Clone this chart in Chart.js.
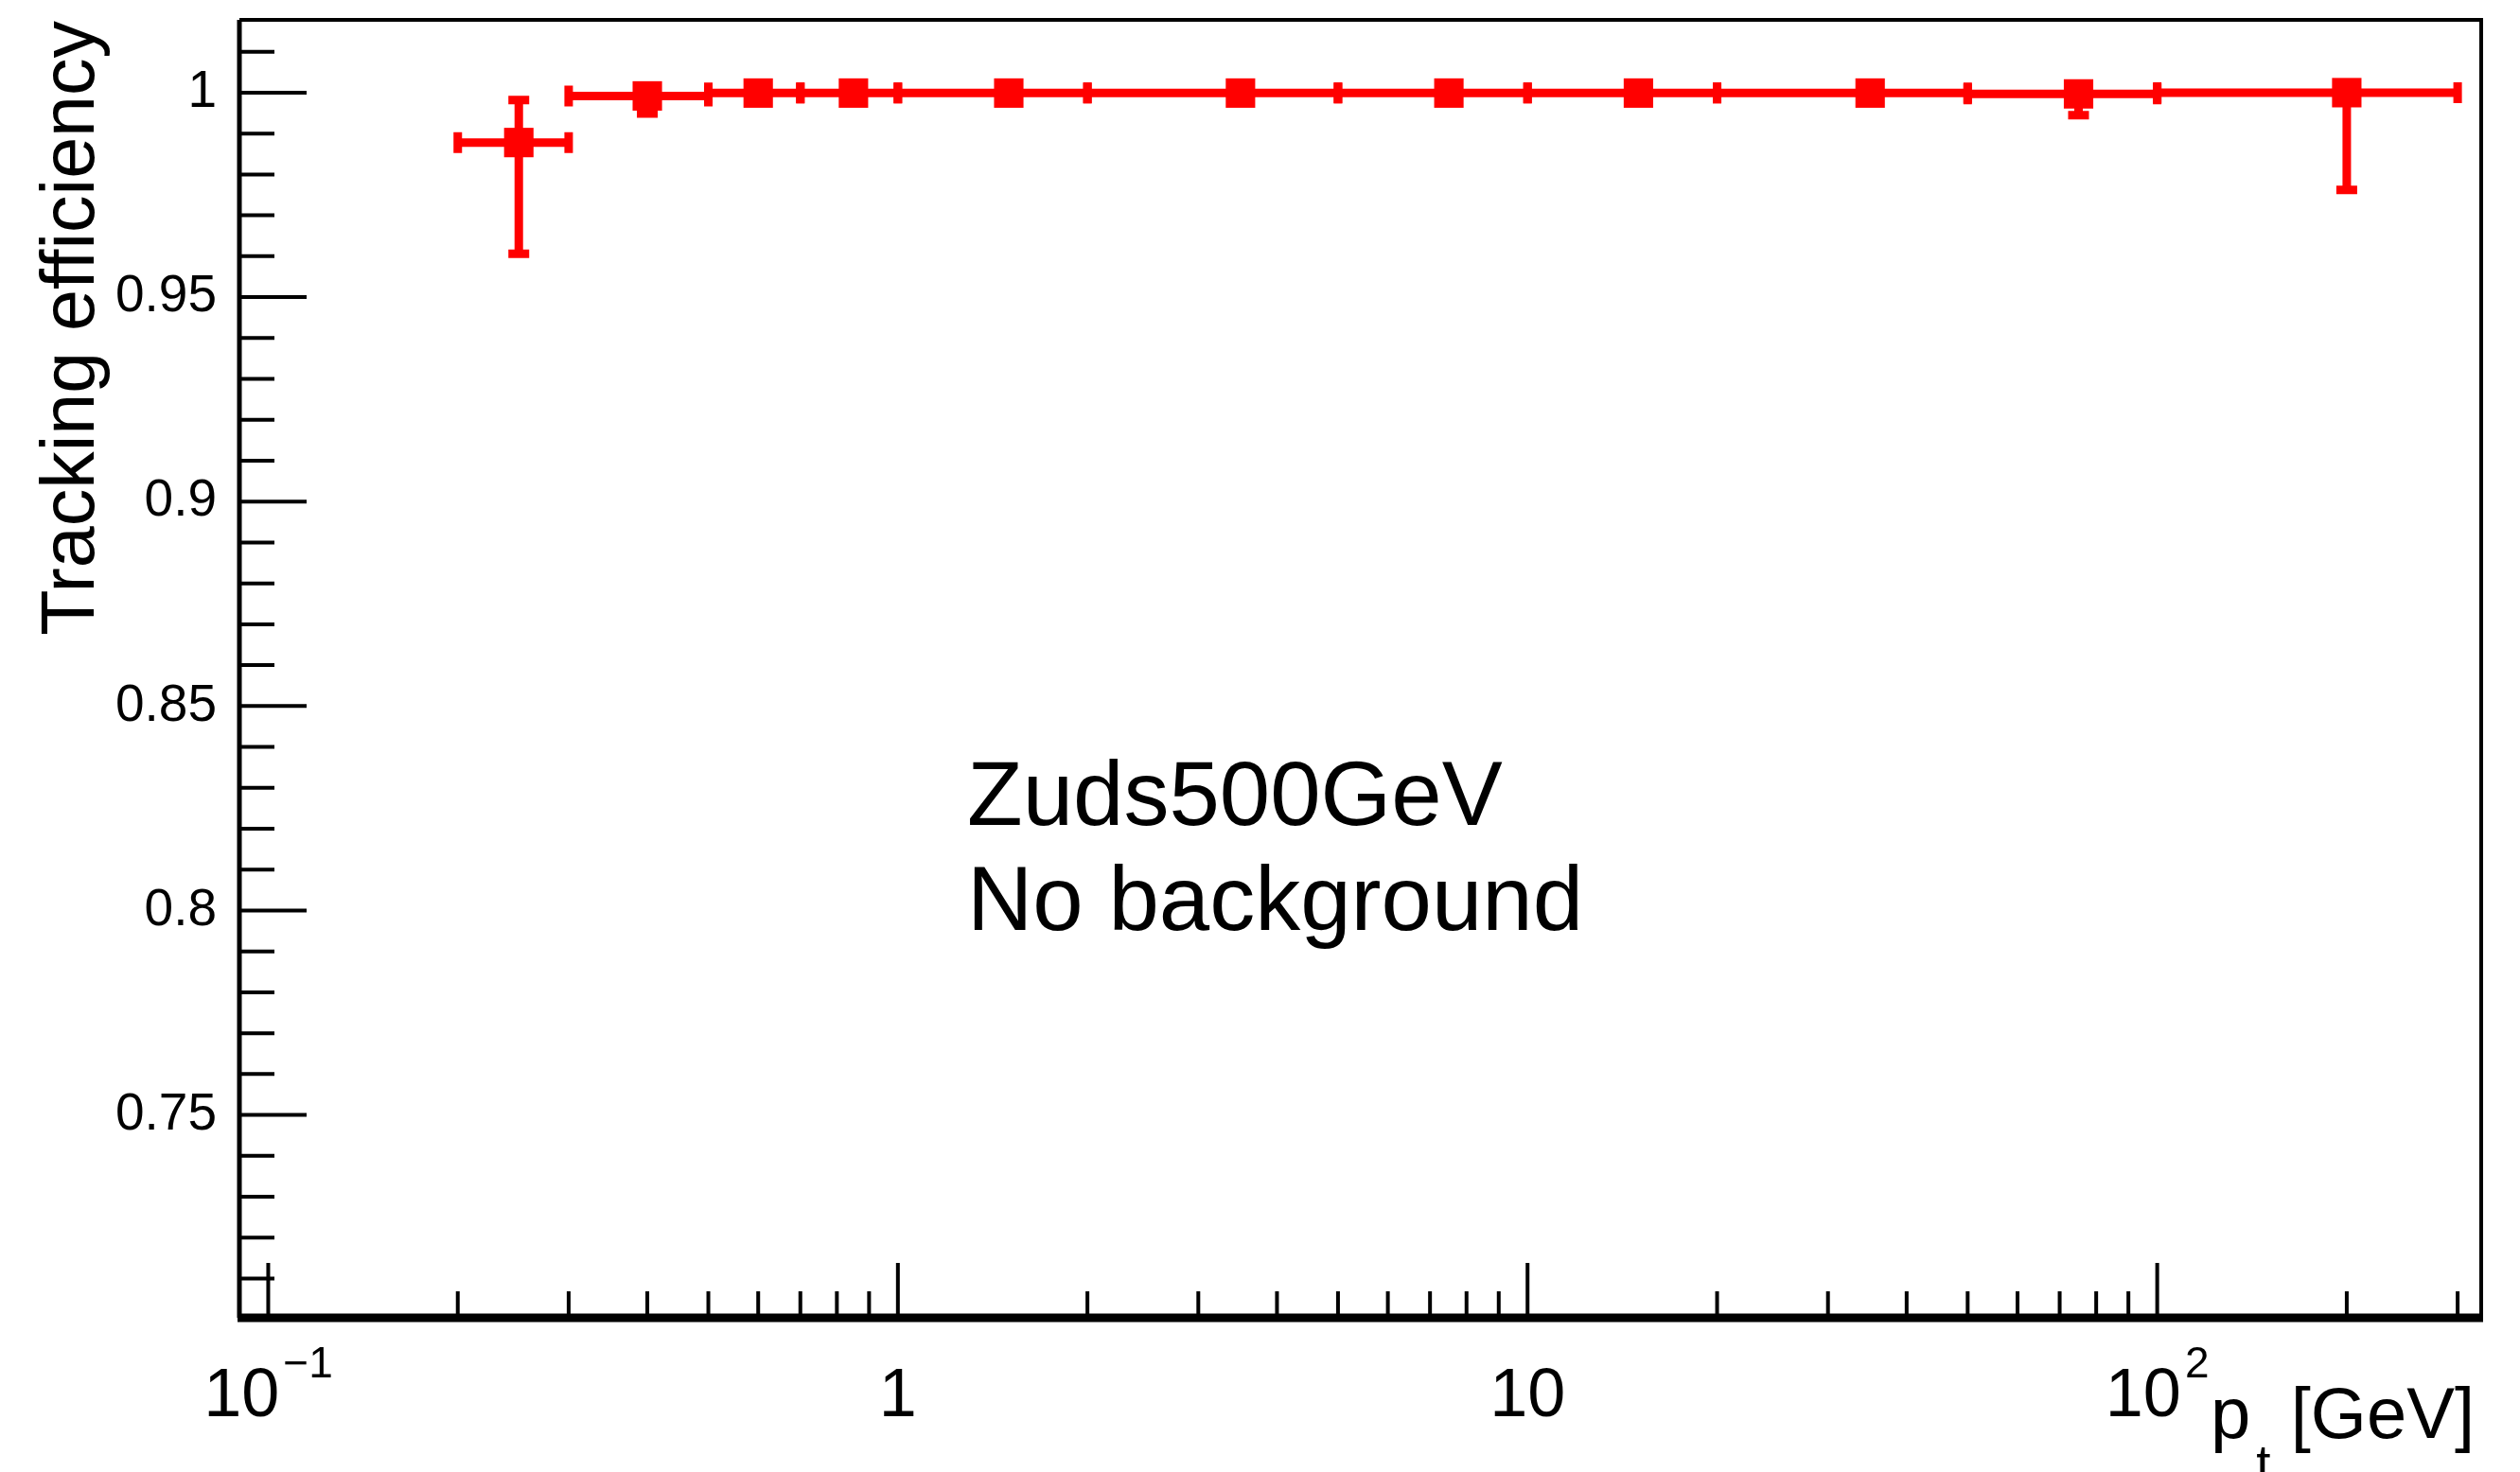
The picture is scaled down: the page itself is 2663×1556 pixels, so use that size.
<!DOCTYPE html>
<html lang="en">
  <head>
    <meta charset="UTF-8" />
    <title>Tracking efficiency</title>
    <script src="https://cdn.jsdelivr.net/npm/chart.js"></script>
    <style>
      html,
      body {
        margin: 0;
        padding: 0;
        background: #fff;
      }
      canvas {
        display: block;
      }
    </style>
  </head>

  <body>
    <canvas id="effChart" width="2663" height="1556"></canvas>

    <script>
      // pt bins [GeV]
      var binCenter = [0.25, 0.4, 0.6, 0.85, 1.5, 3.5, 7.5, 15, 35, 75, 200];
      var binLow = [0.2, 0.3, 0.5, 0.7, 1, 2, 5, 10, 20, 50, 100];
      var binHigh = [0.3, 0.5, 0.7, 1, 2, 5, 10, 20, 50, 100, 300];

      // efficiency and asymmetric errors
      var efficiency = [0.9878, 0.9992, 0.9999, 0.9999, 0.9999, 0.9999, 0.9999, 0.9999, 0.9999, 0.9997, 1.0];
      var errLow = [0.0272, 0.0043, 0.0012, 0.001, 0.0008, 0.0007, 0.0008, 0.001, 0.0012, 0.0052, 0.0238];
      var errHigh = [0.0104, 0.0006, 0.0001, 0.0001, 0.0001, 0.0001, 0.0001, 0.0001, 0.0001, 0.0003, 0];

      // axis ticks
      var yTicks = [0.75, 0.8, 0.85, 0.9, 0.95, 1];
      var xTicks = [0.1, 1, 10, 100];
      var xTickBase = ["10", "1", "10", "10"];
      var xTickExp = ["\u22121", "", "", "2"];

      var FONT = "'Liberation Sans', Arial, Helvetica, sans-serif";
      var RED = "#ff0000";

      var errorBars = {
        id: "errorBars",
        beforeDatasetsDraw: function (chart) {
          var ctx = chart.ctx;
          var xs = chart.scales.x;
          var ys = chart.scales.y;
          var cap = 11;
          ctx.save();
          ctx.strokeStyle = RED;
          ctx.lineWidth = 9;
          for (var i = 0; i < binCenter.length; i++) {
            var x = xs.getPixelForValue(binCenter[i]);
            var y = ys.getPixelForValue(efficiency[i]);
            var x1 = xs.getPixelForValue(binLow[i]);
            var x2 = xs.getPixelForValue(binHigh[i]);
            var y1 = ys.getPixelForValue(efficiency[i] - errLow[i]);
            var y2 = ys.getPixelForValue(efficiency[i] + errHigh[i]);
            ctx.beginPath();
            ctx.moveTo(x1, y);
            ctx.lineTo(x2, y);
            ctx.moveTo(x, y1);
            ctx.lineTo(x, y2);
            ctx.moveTo(x1, y - cap);
            ctx.lineTo(x1, y + cap);
            ctx.moveTo(x2, y - cap);
            ctx.lineTo(x2, y + cap);
            ctx.moveTo(x - cap, y1);
            ctx.lineTo(x + cap, y1);
            ctx.moveTo(x - cap, y2);
            ctx.lineTo(x + cap, y2);
            ctx.stroke();
          }
          ctx.restore();
        },
      };

      var frame = {
        id: "frame",
        afterDraw: function (chart) {
          var ctx = chart.ctx;
          var a = chart.chartArea;
          var xs = chart.scales.x;
          var ys = chart.scales.y;
          ctx.save();
          ctx.strokeStyle = "#000";
          ctx.fillStyle = "#000";

          // frame
          ctx.lineWidth = 4;
          ctx.beginPath();
          ctx.moveTo(a.left, a.top);
          ctx.lineTo(a.right, a.top);
          ctx.lineTo(a.right, a.bottom);
          ctx.stroke();
          ctx.lineWidth = 5;
          ctx.beginPath();
          ctx.moveTo(a.left, a.bottom);
          ctx.lineTo(a.left, a.top);
          ctx.stroke();
          ctx.lineWidth = 9;
          ctx.beginPath();
          ctx.moveTo(a.left - 2, a.bottom);
          ctx.lineTo(a.right + 2, a.bottom);
          ctx.stroke();

          // y ticks (inside)
          ctx.lineWidth = 4;
          ctx.beginPath();
          for (var k = 71; k <= 101; k++) {
            var v = k / 100;
            var py = ys.getPixelForValue(v);
            if (py < a.top || py > a.bottom) continue;
            var len = k % 5 === 0 ? 71 : 37;
            ctx.moveTo(a.left, py);
            ctx.lineTo(a.left + len, py);
          }
          ctx.stroke();

          // x ticks (inside)
          ctx.beginPath();
          for (var d = -1; d <= 2; d++) {
            for (var m = 1; m <= 9; m++) {
              var xv = m * Math.pow(10, d);
              var px = xs.getPixelForValue(xv);
              if (px < a.left || px > a.right) continue;
              var tl = m === 1 ? 58 : 28;
              ctx.moveTo(px, a.bottom);
              ctx.lineTo(px, a.bottom - tl);
            }
          }
          ctx.stroke();

          // x tick labels with exponents
          ctx.textBaseline = "alphabetic";
          ctx.textAlign = "left";
          for (var i = 0; i < xTicks.length; i++) {
            var tx = xs.getPixelForValue(xTicks[i]);
            ctx.font = "72px " + FONT;
            var wb = ctx.measureText(xTickBase[i]).width;
            ctx.font = "46px " + FONT;
            var we = xTickExp[i] ? ctx.measureText(xTickExp[i]).width + 4 : 0;
            var start = tx - (wb + we) / 2;
            ctx.font = "72px " + FONT;
            ctx.fillText(xTickBase[i], start, 1497);
            if (xTickExp[i]) {
              ctx.font = "46px " + FONT;
              ctx.fillText(xTickExp[i], start + wb + 4, 1456);
            }
          }

          // x title: p_t [GeV]
          ctx.textAlign = "right";
          ctx.font = "76px " + FONT;
          var endX = 2615;
          ctx.fillText(" [GeV]", endX, 1520);
          var w1 = ctx.measureText(" [GeV]").width;
          ctx.font = "55px " + FONT;
          ctx.fillText("t", endX - w1, 1566);
          var wt = ctx.measureText("t").width + 6;
          ctx.font = "76px " + FONT;
          ctx.fillText("p", endX - w1 - wt, 1520);

          // y title
          ctx.save();
          ctx.translate(99, 22);
          ctx.rotate(-Math.PI / 2);
          ctx.textAlign = "right";
          ctx.font = "79px " + FONT;
          ctx.fillText("Tracking efficiency", 0, 0);
          ctx.restore();

          // sample text
          ctx.textAlign = "left";
          ctx.font = "96px " + FONT;
          ctx.fillText("Zuds500GeV", 1022, 872);
          ctx.fillText("No background", 1022, 983);

          ctx.restore();
        },
      };

      var points = [];
      for (var i = 0; i < binCenter.length; i++) {
        points.push({ x: binCenter[i], y: efficiency[i] });
      }

      var effChart = new Chart(document.getElementById("effChart"), {
        type: "scatter",
        data: {
          datasets: [
            {
              label: "Tracking efficiency",
              data: points,
              pointStyle: "rect",
              pointRadius: 22,
              pointHoverRadius: 22,
              backgroundColor: RED,
              borderColor: RED,
              borderWidth: 0,
              showLine: false,
            },
          ],
        },
        options: {
          responsive: false,
          animation: false,
          devicePixelRatio: 1,
          layout: { autoPadding: false, padding: { top: 21, right: 41, left: 0, bottom: 0 } },
          plugins: {
            legend: { display: false },
            tooltip: { enabled: false },
          },
          scales: {
            x: {
              type: "logarithmic",
              min: 0.09,
              max: 327,
              grid: { display: false },
              border: { display: false },
              ticks: { display: false },
              afterBuildTicks: function (s) {
                s.ticks = xTicks.map(function (v) {
                  return { value: v };
                });
              },
              afterFit: function (s) {
                s.height = 163;
                s.paddingLeft = 0;
                s.paddingRight = 0;
                s.paddingTop = 0;
                s.paddingBottom = 0;
              },
            },
            y: {
              type: "linear",
              min: 0.7004,
              max: 1.0178,
              grid: { display: false },
              border: { display: false },
              ticks: {
                color: "#000",
                padding: 16,
                font: { family: FONT, size: 55 },
                callback: function (v) {
                  return String(Math.round(v * 100) / 100);
                },
              },
              afterBuildTicks: function (s) {
                s.ticks = yTicks.map(function (v) {
                  return { value: v };
                });
              },
              afterFit: function (s) {
                s.width = 253;
                s.paddingLeft = 0;
                s.paddingRight = 0;
                s.paddingTop = 0;
                s.paddingBottom = 0;
              },
            },
          },
        },
        plugins: [errorBars, frame],
      });
    </script>
  </body>
</html>
